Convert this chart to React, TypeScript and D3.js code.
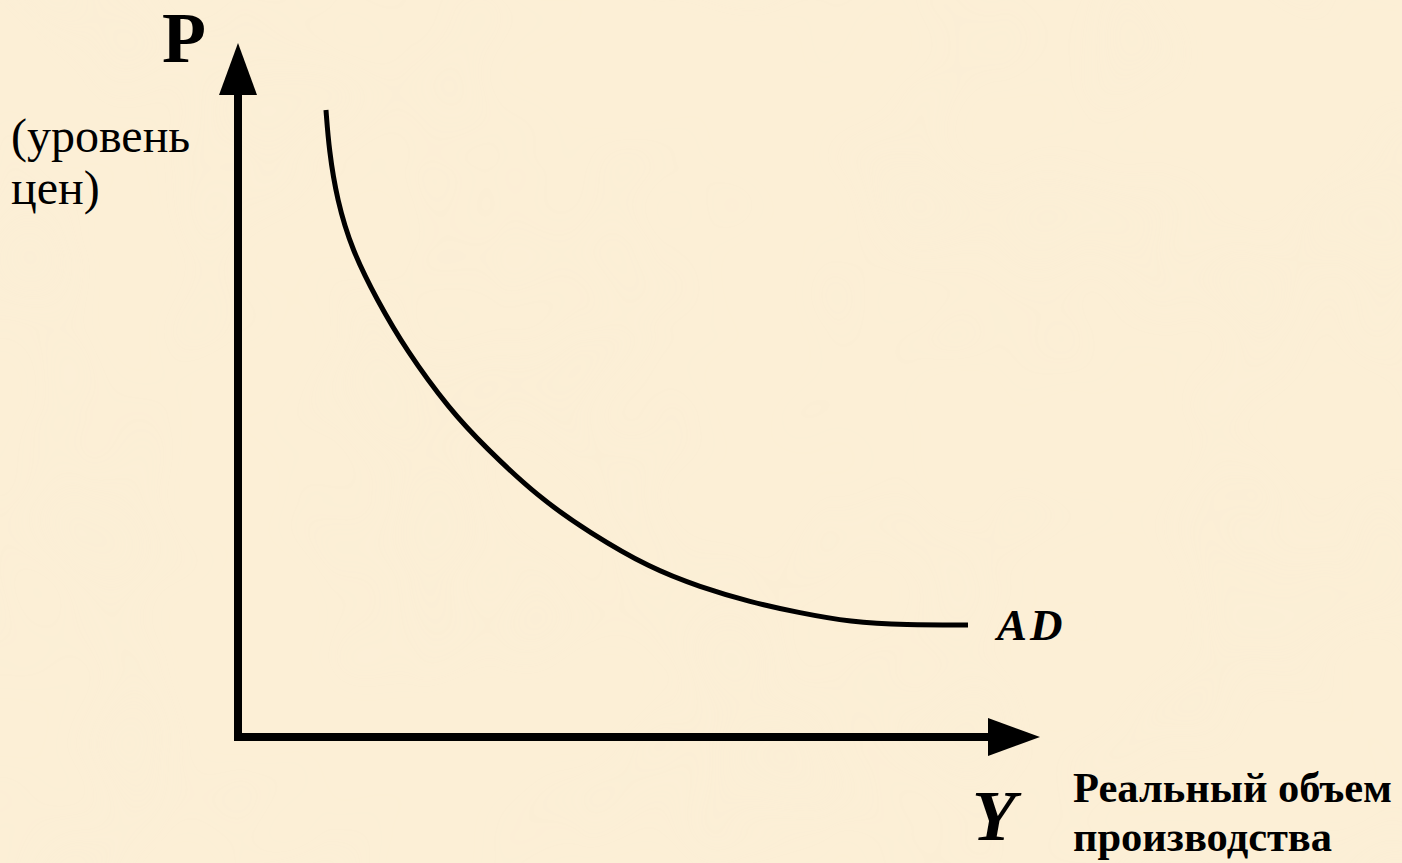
import React, { useEffect } from "react";
import * as d3 from "d3";

const W = 1402;
const H = 863;

// AD curve: real output (Y) vs price level (P), in axis units 0..100
const adY = [10.97, 11.35, 12.34, 14.21, 17.33, 20.95, 26.43, 30.8, 37.41, 43.89, 51.37, 57.61, 63.84, 70.07, 76.31, 83.29, 91.02];
const adP = [90.35, 84.58, 77.38, 70.17, 62.97, 55.76, 47.12, 41.79, 34.58, 29.39, 24.35, 21.61, 19.45, 17.87, 16.57, 16.14, 16.14];

const yAxisLabel = "P";
const yAxisNote = ["(уровень", "цен)"];
const xAxisLabel = "Y";
const xAxisNote = ["Реальный объем", "производства"];
const curveLabel = "AD";

const BG = "#fcefd6";
const INK = "#000000";
const SERIF = '"Liberation Serif", "Times New Roman", serif';

export default function App() {
  useEffect(() => {
    document.body.style.margin = "0";
  }, []);

  const x = d3.scaleLinear().domain([0, 100]).range([238, 1040]);
  const y = d3.scaleLinear().domain([0, 100]).range([737, 43]);

  const pts = adY.map((v, i) => [v, adP[i]] as [number, number]);
  const line = d3
    .line<[number, number]>()
    .x((d) => x(d[0]))
    .y((d) => y(d[1]))
    .curve(d3.curveBasis);

  const x0 = x(0);
  const y0 = y(0);
  const xTip = x(100);
  const yTip = y(100);
  const head = 52;
  const half = 19;
  const shaft = 8;

  const last = pts[pts.length - 1];

  return (
    <svg
      width={W}
      height={H}
      style={{ position: "absolute", left: 0, top: 0, display: "block" }}
    >
      <defs>
        <filter id="parch" x="0" y="0" width="100%" height="100%">
          <feTurbulence type="fractalNoise" baseFrequency="0.006" numOctaves="2" seed="7" />
          <feColorMatrix
            type="matrix"
            values="0 0 0 0 0.93  0 0 0 0 0.85  0 0 0 0 0.68  0 0 0 1.1 -0.45"
          />
        </filter>
      </defs>
      <rect x={0} y={0} width={W} height={H} fill={BG} />
      <rect x={0} y={0} width={W} height={H} filter="url(#parch)" opacity={0.35} />

      {/* axes */}
      <line x1={x0} y1={y0 + shaft / 2} x2={x0} y2={yTip + head} stroke={INK} strokeWidth={shaft} />
      <path
        d={`M${x0},${yTip} L${x0 - half},${yTip + head} L${x0 + half},${yTip + head} Z`}
        fill={INK}
      />
      <line x1={x0 - shaft / 2} y1={y0} x2={xTip - head} y2={y0} stroke={INK} strokeWidth={shaft} />
      <path
        d={`M${xTip},${y0} L${xTip - head},${y0 - half} L${xTip - head},${y0 + half} Z`}
        fill={INK}
      />

      {/* AD curve */}
      <path d={line(pts) ?? ""} fill="none" stroke={INK} strokeWidth={5} />

      {/* labels */}
      <text x={162} y={62} style={{ fontFamily: SERIF }} fontWeight="bold" fontSize={72} fill={INK}>
        {yAxisLabel}
      </text>
      <text style={{ fontFamily: SERIF }} fontSize={48} fill={INK}>
        {yAxisNote.map((t, i) => (
          <tspan key={i} x={11} y={152 + i * 52}>
            {t}
          </tspan>
        ))}
      </text>
      <text
        x={x(last[0]) + 29}
        y={y(last[1]) + 15}
        style={{ fontFamily: SERIF, letterSpacing: "3px" }}
        fontWeight="bold"
        fontStyle="italic"
        fontSize={45}
        fill={INK}
      >
        {curveLabel}
      </text>
      <text
        x={972}
        y={840}
        style={{ fontFamily: SERIF }}
        fontWeight="bold"
        fontStyle="italic"
        fontSize={72}
        fill={INK}
      >
        {xAxisLabel}
      </text>
      <text style={{ fontFamily: SERIF }} fontWeight="bold" fontSize={42.5} fill={INK}>
        {xAxisNote.map((t, i) => (
          <tspan key={i} x={1073} y={802 + i * 49}>
            {t}
          </tspan>
        ))}
      </text>
    </svg>
  );
}
